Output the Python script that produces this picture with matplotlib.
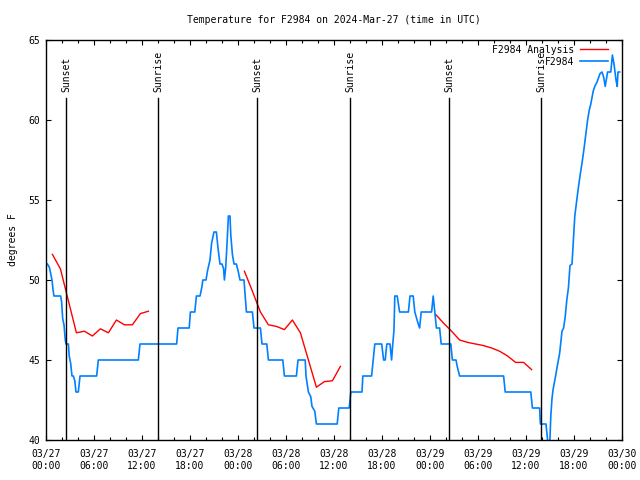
import matplotlib

matplotlib.use("Agg")
import matplotlib.pyplot as plt
from matplotlib.ticker import MultipleLocator

# Hours since 03/27 00:00 UTC
BLUE_HOURS = [
    0.17, 0.42, 0.75, 0.9, 1.0, 1.83, 1.96, 2.08, 2.25, 2.42, 2.5, 2.8, 2.9, 3.08,
    3.25, 3.42, 3.6, 3.75, 4.04, 4.25, 6.33, 6.54, 11.54, 11.75, 16.33, 16.5, 17.9,
    18.05, 18.6, 18.8, 19.25, 19.5, 19.6, 20.0, 20.2, 20.5, 20.7, 21.0, 21.3, 21.5,
    21.75, 22.0, 22.2, 22.3, 22.45, 22.6, 22.8, 23.0, 23.1, 23.3, 23.5, 23.8, 24.0,
    24.25, 24.75, 24.9, 25.05, 25.8, 26.0, 26.8, 27.0, 27.6, 27.8, 29.6, 29.8, 31.3,
    31.5, 32.4, 32.5, 32.8, 33.1, 33.25, 33.6, 33.8, 36.4, 36.6, 37.9, 38.1, 39.5,
    39.6, 40.7, 40.9, 41.1, 41.96, 42.2, 42.4, 42.6, 43.0, 43.2, 43.3, 43.5, 43.6,
    43.9, 44.2, 45.3, 45.5, 45.9, 46.1, 46.5, 46.7, 46.9, 48.2, 48.4, 48.6, 48.8,
    49.2, 49.4, 50.6, 50.8, 51.25, 51.4, 51.7, 57.2, 57.4, 60.6, 60.8, 61.7, 61.8,
    62.5, 62.8, 62.95, 63.1, 63.25, 63.4, 63.7, 63.9, 64.2, 64.5, 64.7, 64.9, 65.1,
    65.3, 65.5, 65.75, 65.9, 66.1, 66.3, 66.5, 66.75, 67.0, 67.25, 67.5, 67.7, 67.9,
    68.1, 68.4, 68.6, 68.9, 69.25, 69.5, 69.7, 69.9, 70.2, 70.6, 70.8, 71.0, 71.25,
    71.4, 71.5, 71.7,
]
BLUE_TEMPS = [
    51.0, 50.8, 50.0, 49.3, 49.0, 49.0, 48.6, 47.6, 47.2, 46.2, 46.0, 46.0, 45.25, 44.8,
    44.0, 44.0, 43.7, 43.0, 43.0, 44.0, 44.0, 45.0, 45.0, 46.0, 46.0, 47.0, 47.0,
    48.0, 48.0, 49.0, 49.0, 49.6, 50.0, 50.0, 50.6, 51.25, 52.3, 53.0, 53.0, 52.0,
    51.0, 51.0, 50.7, 50.0, 50.7, 52.0, 54.0, 54.0, 52.8, 51.6, 51.0, 51.0, 50.6,
    50.0, 50.0, 49.0, 48.0, 48.0, 47.0, 47.0, 46.0, 46.0, 45.0, 45.0, 44.0, 44.0,
    45.0, 45.0, 44.0, 43.0, 42.7, 42.1, 41.8, 41.0, 41.0, 42.0, 42.0, 43.0, 43.0,
    44.0, 44.0, 45.0, 46.0, 46.0, 45.0, 45.0, 46.0, 46.0, 45.0, 45.7, 46.9, 49.0,
    49.0, 48.0, 48.0, 49.0, 49.0, 48.0, 47.3, 47.0, 48.0, 48.0, 49.0, 48.0, 47.0,
    47.0, 46.0, 46.0, 45.0, 45.0, 44.6, 44.0, 44.0, 43.0, 43.0, 42.0, 42.0, 41.0,
    41.0, 39.5, 39.5, 41.5, 42.6, 43.2, 44.0, 44.6, 45.4, 46.8, 47.0, 47.7, 48.75,
    49.5, 50.9, 51.0, 52.3, 54.0, 54.8, 55.6, 56.5, 57.3, 58.2, 59.2, 60.0, 60.6,
    61.0, 61.8, 62.1, 62.4, 62.9, 63.0, 62.7, 62.1, 63.0, 63.0, 64.06, 63.5, 62.5,
    62.1, 63.0, 63.0,
]

RED1_HOURS = [0.8, 1.8, 2.8, 3.8, 4.8, 5.8, 6.8, 7.8, 8.8, 9.8, 10.8, 11.8, 12.8]
RED1_TEMPS = [51.6, 50.7, 48.7, 46.7, 46.8, 46.5, 46.95, 46.7, 47.5, 47.2, 47.2, 47.9, 48.05]
RED2_HOURS = [24.8, 25.8, 26.8, 27.8, 28.8, 29.8, 30.8, 31.8, 32.8, 33.8, 34.8, 35.8, 36.8]
RED2_TEMPS = [50.55, 49.3, 48.0, 47.2, 47.1, 46.9, 47.5, 46.7, 45.0, 43.3, 43.65, 43.7, 44.6]
RED3_HOURS = [48.7, 49.7, 50.7, 51.7, 52.7, 53.7, 54.7, 55.7, 56.7, 57.7, 58.7, 59.7, 60.7]
RED3_TEMPS = [47.85, 47.3, 46.8, 46.25, 46.1, 46.0, 45.9, 45.75, 45.55, 45.25, 44.85, 44.85, 44.4]

SUNSET_HOURS = [2.54, 26.4, 50.4]
SUNRISE_HOURS = [14.04, 38.04, 61.9]

TICK_HOURS = [0, 6, 12, 18, 24, 30, 36, 42, 48, 54, 60, 66, 72]
TICK_LABELS = [
    "03/27\n00:00", "03/27\n06:00", "03/27\n12:00", "03/27\n18:00",
    "03/28\n00:00", "03/28\n06:00", "03/28\n12:00", "03/28\n18:00",
    "03/29\n00:00", "03/29\n06:00", "03/29\n12:00", "03/29\n18:00",
    "03/30\n00:00",
]

FONT = "DejaVu Sans Mono"
FS = 7
RED = "#ff0000"
BLUE = "#0080ff"

plt.rcParams["font.family"] = FONT
plt.rcParams["font.size"] = FS

fig = plt.figure(figsize=(6.4, 4.8), dpi=100)
ax = fig.add_axes([46 / 640, 40 / 480, 576 / 640, 400 / 480])

for hours, temps in [(RED1_HOURS, RED1_TEMPS), (RED2_HOURS, RED2_TEMPS), (RED3_HOURS, RED3_TEMPS)]:
    ax.plot(hours, temps, color=RED, linewidth=1)
ax.plot([], [], color=RED, linewidth=1, label="F2984 Analysis")
ax.plot(BLUE_HOURS, BLUE_TEMPS, color=BLUE, linewidth=1.2, label="F2984")

# marker lines with rotated labels sitting just above each line
for name, hours in [("Sunset", SUNSET_HOURS), ("Sunrise", SUNRISE_HOURS)]:
    for h in hours:
        ax.plot([h, h], [40, 61.35], color="black", linewidth=1)
        ax.text(h, 61.75, name, rotation=90, ha="center", va="bottom", fontsize=FS)

ax.set_xlim(0, 72)
ax.set_ylim(40, 65)
ax.set_xticks(TICK_HOURS)
ax.set_xticklabels(TICK_LABELS, linespacing=1.3)
ax.xaxis.set_minor_locator(MultipleLocator(2))
ax.set_yticks([40, 45, 50, 55, 60, 65])
ax.tick_params(which="both", direction="in", top=True, right=True, colors="black")
ax.tick_params(which="major", length=3.6, width=0.8, pad=4)
ax.tick_params(axis="x", which="major", pad=6.5)
ax.tick_params(which="minor", length=2.2, width=0.8)
for spine in ax.spines.values():
    spine.set_linewidth(1)

ax.set_title("Temperature for F2984 on 2024-Mar-27 (time in UTC)", fontsize=FS, pad=12.5)
ax.set_ylabel("degrees F", fontsize=FS, labelpad=8)

ax.legend(
    loc="upper right",
    bbox_to_anchor=(1 - 9 / 576, 1.0),
    frameon=False,
    markerfirst=False,
    handlelength=2.9,
    handletextpad=0.6,
    labelspacing=0.2,
    borderaxespad=0.2,
    borderpad=0.3,
    fontsize=FS,
)

fig.savefig("out.png", dpi=100)
plt.close(fig)
